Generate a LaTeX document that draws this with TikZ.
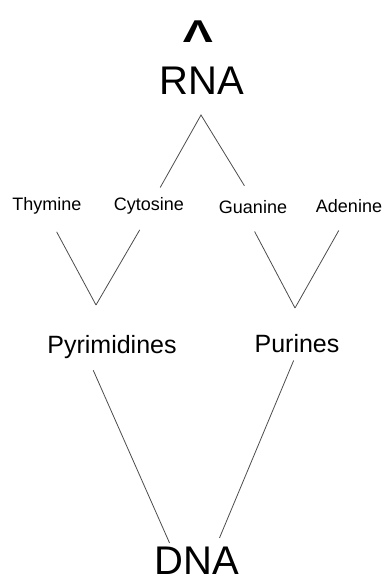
\documentclass[tikz,border=0pt]{standalone}
\usepackage{fontspec}
\usepackage{graphicx}
\usepackage{tikz}
\setmainfont{Liberation Sans}

\begin{document}
\begin{tikzpicture}[
    x=1pt, y=-1pt,
    base/.style={font=\fontsize{18}{18}\selectfont, inner sep=0pt, anchor=base},
    group/.style={font=\fontsize{25}{25}\selectfont, inner sep=0pt, anchor=base},
    acid/.style={font=\fontsize{40}{40}\selectfont, inner sep=0pt, anchor=base},
    link/.style={draw=black!70, line width=0.8pt},
  ]
    \useasboundingbox (0,0) rectangle (386,583);

    \node[inner sep=0pt, anchor=base, font=\fontsize{30}{30}\selectfont\bfseries] (caret) at (198,43) {\scalebox{1.5}[1.05]{Λ}};
    \node[acid] (rna) at (202,95) {RNA};

    \node[base] (thy) at (47,210) {Thymine};
    \node[base] (cyt) at (149,210) {Cytosine};
    \node[base] (gua) at (253,213) {Guanine};
    \node[base] (ade) at (349,212) {Adenine};

    \node[group] (pyr) at (112,353) {Pyrimidines};
    \node[group] (pur) at (297,352) {Purines};

    \node[acid] (dna) at (197,574) {DNA};

    \coordinate (rnav) at (201,115);
    \coordinate (pyrv) at (96,305);
    \coordinate (purv) at (295,308);

    \draw[link, shorten <=10.6pt, shorten >=16.4pt] ([xshift=6pt]cyt.north) -- (rnav) -- (gua.north);

    \draw[link, shorten <=20.4pt] (thy.south) -- (pyrv);
    \draw[link, shorten <=18.5pt] (cyt.south) -- (pyrv);
    \draw[link, shorten <=20.5pt] ([xshift=-8pt]gua.south) -- (purv);
    \draw[link, shorten <=20.8pt] (ade.south) -- (purv);

    \draw[link, shorten <=13pt, shorten >=3.7pt] ([xshift=-24pt]pyr.south) -- ([xshift=-26pt]dna.north);
    \draw[link, shorten <=8.7pt, shorten >=9.1pt] (pur.south) -- ([xshift=19pt]dna.north);
  \end{tikzpicture}
\end{document}
